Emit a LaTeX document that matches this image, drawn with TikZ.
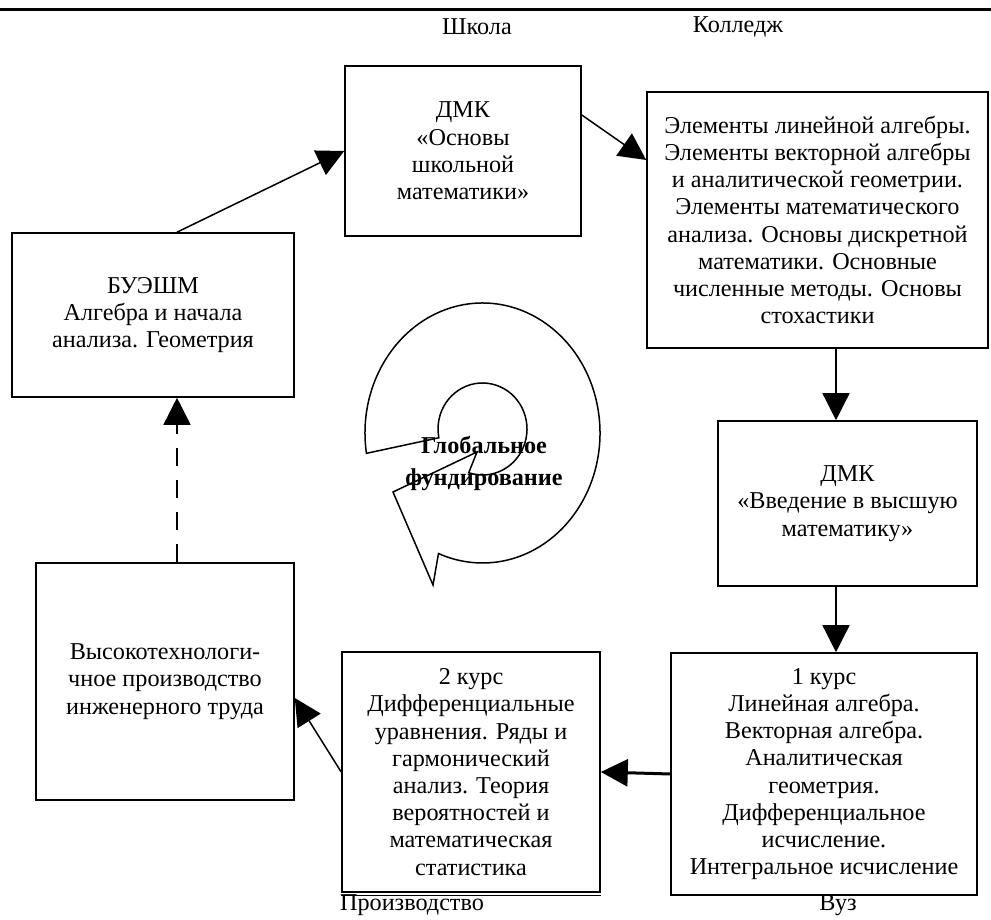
\documentclass[tikz,border=0pt]{standalone}
\usepackage{fontspec}
\setmainfont{Liberation Serif}
\usetikzlibrary{arrows.meta}

\begin{document}
\begin{tikzpicture}[x=1pt,y=1pt,box/.style={draw,line width=1.6pt,fill=white,align=center,inner sep=0pt,font=\fontsize{24.2}{27.2}\selectfont},a/.style={-{Triangle[length=27pt,width=27pt]},line width=1.5pt},lbl/.style={font=\fontsize{24.2}{27.2}\selectfont}]
\useasboundingbox (0,0) rectangle (991,920);
\draw[line width=3pt] (0,910)--(991,910);
\node[lbl] (school) at (477,893) {Школа};
\node[lbl] (college) at (738,893) {Колледж};
\node[box,minimum width=236pt,minimum height=170pt] (osn) at (463,769) {ДМК\\«Основы\\школьной\\математики»};
\node[box,minimum width=341pt,minimum height=256pt] (elem) at (817.5,700) {Элементы линейной алгебры.\\Элементы векторной алгебры\\и аналитической геометрии.\\Элементы математического\\анализа. Основы дискретной\\математики. Основные\\численные методы. Основы\\стохастики};
\node[box,minimum width=282pt,minimum height=164pt] (buesh) at (153,605) {БУЭШМ\\Алгебра и начала\\анализа. Геометрия};
\node[box,minimum width=259pt,minimum height=165pt] (vved) at (847.5,416.5) {ДМК\\«Введение в высшую\\математику»};
\node[box,minimum width=258pt,minimum height=237pt] (prod) at (165,238.5) {Высокотехнологи-\\чное производство\\инженерного труда};
\node[box,minimum width=258pt,minimum height=240pt] (k2) at (471,148) {2 курс\\Дифференциальные\\уравнения. Ряды и\\гармонический\\анализ. Теория\\вероятностей и\\математическая\\статистика};
\draw[line width=1.2pt] ([yshift=-3pt]k2.south west)--([yshift=-3pt]k2.south east);
\node[box,minimum width=306pt,minimum height=242pt] (k1) at (824,146) {1 курс\\Линейная алгебра.\\Векторная алгебра.\\Аналитическая\\геометрия.\\Дифференциальное\\исчисление.\\Интегральное исчисление};
\node[lbl] (proizv) at (412,15) {Производство};
\node[lbl] (vuz) at (838,15) {Вуз};
% spiral
\draw[line width=1.5pt,fill=white] ([shift={(189:117.5 and 130)}]482.5,487) arc[start angle=189,end angle=-112,x radius=117.5,y radius=130]
  -- (433,335) -- (393,428) -- (477,468) -- ([shift={(-108:44.5 and 46)}]482.5,491) arc[start angle=-108,end angle=191,x radius=44.5,y radius=46] -- cycle;
\node[font=\fontsize{24.2}{32}\selectfont\bfseries,align=center] (glob) at (484,457) {Глобальное\\фундирование};
% arrows
\draw[a] ([xshift=24pt]buesh.north)--(osn.west);
\draw[a] ([yshift=36pt]osn.east)--([yshift=60pt]elem.west);
\draw[a] ([xshift=18.5pt]elem.south)--([xshift=-11.5pt]vved.north);
\draw[a] ([xshift=-11.5pt]vved.south)--([xshift=12pt]k1.north);
\draw[a,line width=3pt] (k1.west)--(k2.east);
\draw[a] (k2.west)--([yshift=-16.5pt]prod.east);
\draw[a,dash pattern=on 18pt off 14pt] ([xshift=12pt]prod.north)--([xshift=24pt]buesh.south);
\end{tikzpicture}
\end{document}
